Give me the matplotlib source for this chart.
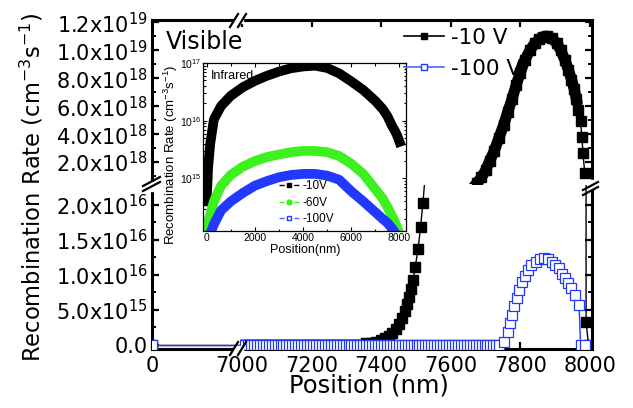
import matplotlib
matplotlib.use("Agg")
import matplotlib.pyplot as plt
import numpy as np
from matplotlib.lines import Line2D
from matplotlib.patches import Rectangle

plt.rcParams["font.family"] = ["DejaVu Sans"]
plt.rcParams["mathtext.default"] = "regular"
INSET_FONT = ["Liberation Sans", "DejaVu Sans"]

W, H = 633, 408

# ---- main panel (visible light) -------------------------------------------
# simulation mesh where the rate is still ~0
mesh_10v = np.arange(7000, 7350, 9.0)
mesh_100v = np.arange(7000, 7748, 8.5)

pos_10v_peak = [7356, 7370, 7385, 7400, 7412, 7422, 7432, 7442, 7451, 7460,
                7468, 7475, 7481, 7487, 7492, 7498, 7506, 7513, 7520, 7527,
                7675, 7688, 7700, 7712, 7725, 7738, 7752, 7764, 7776, 7788,
                7800, 7813, 7828, 7842, 7855, 7865, 7876, 7890, 7904, 7916,
                7928, 7938, 7947, 7955, 7961, 7966, 7973, 7977, 7980, 7985,
                7989, 7996]
rate_10v_peak = [0.24e15, 0.35e15, 0.5e15, 0.7e15, 0.95e15, 1.25e15, 1.7e15,
                 2.3e15, 3.0e15, 3.8e15, 4.8e15, 5.8e15, 6.8e15, 8.0e15,
                 9.3e15, 11.2e15, 13.7e15, 16.8e15, 20.3e15, 24.5e15,
                 0.5e18, 0.9e18, 1.4e18, 2.1e18, 2.8e18, 3.7e18, 4.65e18,
                 5.6e18, 6.5e18, 7.5e18, 8.4e18, 9.3e18, 10.0e18, 10.5e18,
                 10.8e18, 10.95e18, 11.0e18, 10.85e18, 10.5e18, 10.0e18,
                 9.3e18, 8.6e18, 7.9e18, 7.2e18, 6.5e18, 5.7e18, 4.9e18,
                 3.8e18, 2.65e18, 1.25e18, 3.3e15, 0.0]

pos_100v_bump = [7754, 7764, 7771, 7776, 7782, 7790, 7796, 7804, 7813, 7823,
                 7832, 7844, 7856, 7869, 7880, 7891, 7901, 7910, 7920, 7928,
                 7937, 7947, 7956, 7969, 7973, 7985]
rate_100v_bump = [0.5e15, 1.9e15, 3.1e15, 4.3e15, 5.5e15, 6.7e15, 7.9e15,
                  9.0e15, 9.8e15, 10.7e15, 11.4e15, 11.9e15, 12.2e15, 12.4e15,
                  12.3e15, 11.9e15, 11.4e15, 11.0e15, 10.2e15, 9.5e15, 8.8e15,
                  8.1e15, 7.1e15, 5.7e15, 0.0, 0.0]

pos_10v = np.concatenate([[0], mesh_10v, pos_10v_peak])
rate_10v = np.concatenate([[0], np.zeros(len(mesh_10v)), rate_10v_peak])
pos_100v = np.concatenate([[0], mesh_100v, pos_100v_bump])
rate_100v = np.concatenate([[0], np.zeros(len(mesh_100v)), rate_100v_bump])

lower_ticks = [0, 5e15, 1e16, 1.5e16, 2e16]
lower_labels = ["0.0", "5.0x10$^{15}$", "1.0x10$^{16}$", "1.5x10$^{16}$",
                "2.0x10$^{16}$"]
upper_ticks = [2e18, 4e18, 6e18, 8e18, 1e19, 1.2e19]
upper_labels = ["2.0x10$^{18}$", "4.0x10$^{18}$", "6.0x10$^{18}$",
                "8.0x10$^{18}$", "1.0x10$^{19}$", "1.2x10$^{19}$"]
x_ticks = [7000, 7200, 7400, 7600, 7800, 8000]

# ---- inset (infrared) -----------------------------------------------------
ir_pos_10v = [0, 60, 150, 300, 600, 1000, 1500, 2000, 2500, 3000, 3500, 4000,
              4500, 5000, 5500, 6000, 6500, 7000, 7300, 7500, 7700, 7800,
              7900, 8000]
ir_rate_10v = [4e14, 1.5e15, 4e15, 1.05e16, 1.8e16, 2.7e16, 3.8e16, 4.9e16,
               6.0e16, 7.1e16, 8.1e16, 8.7e16, 9.0e16, 8.2e16, 6.6e16, 4.8e16,
               3.4e16, 2.2e16, 1.6e16, 1.2e16, 8e15, 6.8e15, 5.6e15, 4.3e15]
ir_pos_60v = [0, 100, 300, 600, 1000, 1500, 2000, 2500, 3000, 3500, 4000,
              4500, 5000, 5500, 6000, 6500, 7000, 7300, 7500, 7700, 7800,
              7900, 8000]
ir_rate_60v = [1.1e14, 2e14, 4e14, 7.5e14, 1.15e15, 1.6e15, 2.0e15, 2.35e15,
               2.6e15, 2.85e15, 3.0e15, 3.0e15, 2.85e15, 2.45e15, 1.8e15,
               1.2e15, 6.5e14, 4.5e14, 3.2e14, 2.2e14, 1.8e14, 1.45e14, 1.1e14]
ir_pos_100v = [150, 300, 600, 1000, 1500, 2000, 2500, 3000, 3500, 4000, 4500,
               5000, 5500, 6000, 6500, 7000, 7300, 7500, 7700, 7850]
ir_rate_100v = [1.1e14, 1.6e14, 2.8e14, 4e14, 5.6e14, 7.5e14, 9e14, 1.05e15,
                1.15e15, 1.2e15, 1.2e15, 1.12e15, 9.5e14, 6e14, 4e14, 2.6e14,
                2e14, 1.7e14, 1.35e14, 1.1e14]
ir_x_ticks = [0, 2000, 4000, 6000, 8000]
ir_y_ticks = [1e15, 1e16, 1e17]
ir_y_labels = ["10$^{15}$", "10$^{16}$", "10$^{17}$"]

BLACK, BLUE, GREEN = "black", "#2338ff", "#3ef01e"


def box(l, t, r, b):
    return [l / W, 1 - b / H, (r - l) / W, (b - t) / H]


def px(x, y):
    return x / W, 1 - y / H


fig = plt.figure(figsize=(W / 100, H / 100), dpi=100)
ax_bl = fig.add_axes(box(152, 184.5, 240, 349))
ax_br = fig.add_axes(box(240, 184.5, 592, 349))
ax_tl = fig.add_axes(box(152, 20, 240, 184.5))
ax_tr = fig.add_axes(box(240, 20, 592, 184.5))

for ax, upper in ((ax_bl, False), (ax_br, False), (ax_tl, True), (ax_tr, True)):
    ax.patch.set_alpha(0)
    r10, r100 = rate_10v, rate_100v
    if upper:  # keep near-zero markers from poking across the y break
        r10 = np.where(rate_10v < 1e17, np.nan, rate_10v)
        r100 = np.where(rate_100v < 1e17, np.nan, rate_100v)
    ax.plot(pos_10v, r10, "-", color=BLACK, lw=1, marker="s", ms=6.5,
            mfc=BLACK, mec=BLACK, zorder=2)
    ax.plot(pos_100v, r100, "-", color=BLUE, lw=1, marker="s", ms=6.5,
            mfc="white", mec=BLUE, mew=0.9, zorder=3)
    for s in ax.spines.values():
        s.set_linewidth(2.2)
    ax.tick_params(direction="in", width=1.6, length=5, labelsize=15)
    ax.tick_params(which="minor", direction="in", width=1.4, length=3)

# dense sampling around the visible peak makes the markers merge into a band
dense = (np.array(pos_10v_peak) > 7600) & (np.array(pos_10v_peak) < 7962)
ax_tr.plot(np.array(pos_10v_peak)[dense], np.array(rate_10v_peak)[dense],
           "-", color=BLACK, lw=8, zorder=2)

for ax in (ax_bl, ax_tl):
    ax.set_xlim(0, 250)
for ax in (ax_br, ax_tr):
    ax.set_xlim(6994, 8006)
for ax in (ax_bl, ax_br):
    ax.set_ylim(-0.057e16, 2.29e16)
    ax.set_yticks(lower_ticks)
    ax.set_yticks(np.array(lower_ticks[:-1]) + 2.5e15, minor=True)
for ax in (ax_tl, ax_tr):
    ax.set_ylim(0.4e18, 1.215e19)
    ax.set_yticks(upper_ticks)
    ax.set_yticks(np.array(upper_ticks) - 1e18, minor=True)

ax_bl.set_yticklabels(lower_labels)
ax_tl.set_yticklabels(upper_labels)
ax_bl.set_xticks([0])
ax_bl.set_xticklabels(["0"])
ax_br.set_xticks(x_ticks)
ax_br.set_xticklabels([str(v) for v in x_ticks])
ax_tr.set_xticks(x_ticks)
ax_tl.set_xticks([])

ax_bl.spines[["top", "right"]].set_visible(False)
ax_br.spines[["top", "left"]].set_visible(False)
ax_tl.spines[["bottom", "right"]].set_visible(False)
ax_tr.spines[["bottom", "left"]].set_visible(False)
ax_bl.tick_params(which="both", right=False, pad=3)
ax_tl.tick_params(which="both", right=False, bottom=False, labelbottom=False,
                  pad=3)
ax_br.tick_params(which="both", left=False, labelleft=False, right=True)
ax_tr.tick_params(which="both", left=False, labelleft=False, right=True,
                  top=True, bottom=False, labelbottom=False)
for ax in (ax_bl, ax_br):
    ax.tick_params(axis="x", pad=5)


# axis break marks
def brk(p1, p2, shift):
    (x1, y1), (x2, y2) = p1, p2
    for dx, dy in (0, 0), shift:
        a, b = px(x1 + dx, y1 + dy), px(x2 + dx, y2 + dy)
        fig.add_artist(Line2D([a[0], b[0]], [a[1], b[1]], color="black",
                              lw=1.6, zorder=10))


fig.add_artist(Rectangle(px(234, 23), 9 / W, 6 / H, color="white", zorder=9))
fig.add_artist(Rectangle(px(234, 352), 9 / W, 6 / H, color="white", zorder=9))
fig.add_artist(Rectangle(px(149, 191), 6 / W, 9 / H, color="white", zorder=9))
fig.add_artist(Rectangle(px(589, 189), 6 / W, 9 / H, color="white", zorder=9))
brk((230, 27), (238, 14), (8, 0))
brk((230, 355), (238, 342), (8, 0))
brk((143, 191), (160, 182), (0, -5))
brk((583, 190), (598, 182), (0, 5))

fig.text(*px(32, 187), "Recombination Rate (cm$^{-3}$s$^{-1}$)", rotation=90,
         ha="center", va="center", fontsize=16.3)
fig.text(*px(369, 386), "Position (nm)", ha="center", va="center",
         fontsize=17.5)
fig.text(*px(166, 42), "Visible", ha="left", va="center", fontsize=17)

handles = [Line2D([], [], color=BLACK, lw=1.2, marker="s", ms=5, mfc=BLACK),
           Line2D([], [], color="#4a66ff", lw=1.2, marker="s", ms=5,
                  mfc="white", mec=BLUE)]
leg = fig.legend(handles, ["-10 V", "-100 V"], loc="upper left",
                 bbox_to_anchor=px(404, 28), frameon=False, fontsize=15.5,
                 handlelength=1.85, handletextpad=0.35, labelspacing=0.5,
                 borderpad=0, borderaxespad=0)
leg.set_zorder(20)

# ---- inset ----------------------------------------------------------------
ax_in = fig.add_axes(box(203, 63, 405.5, 231))
ax_in.set_facecolor("white")
ax_in.plot(ir_pos_10v, ir_rate_10v, color=BLACK, lw=7)
ax_in.plot(ir_pos_60v, ir_rate_60v, color=GREEN, lw=7)
ax_in.plot(ir_pos_100v, ir_rate_100v, color=BLUE, lw=7)
ax_in.set_yscale("log")
ax_in.set_xlim(-150, 8250)
ax_in.set_ylim(10 ** 14.09, 10 ** 17.0)
ax_in.set_xticks(ir_x_ticks)
ax_in.set_xticklabels([str(v) for v in ir_x_ticks], family=INSET_FONT)
ax_in.set_xticks([1000, 3000, 5000, 7000], minor=True)
ax_in.set_yticks(ir_y_ticks)
ax_in.set_yticklabels(ir_y_labels, family=INSET_FONT)
ax_in.tick_params(which="both", direction="in", top=True, right=True,
                  labelsize=7.5, pad=1.2, width=0.8)
ax_in.tick_params(which="major", length=3)
ax_in.tick_params(which="minor", length=1.8)
for s in ax_in.spines.values():
    s.set_linewidth(0.9)
ax_in.text(0.04, 0.96, "Infrared", transform=ax_in.transAxes, ha="left",
           va="top", fontsize=9, family=INSET_FONT)
fig.text(*px(171, 155), "Recombination Rate (cm$^{-3}$s$^{-1}$)", rotation=90,
         ha="center", va="center", fontsize=9.5, family=INSET_FONT)
fig.text(*px(305, 250), "Position(nm)", ha="center", va="center", fontsize=9,
         family=INSET_FONT)

ir_handles = [Line2D([], [], color=BLACK, lw=1, ls="--", marker="s", ms=3.5),
              Line2D([], [], color=GREEN, lw=1, ls="--", marker="o", ms=3.5),
              Line2D([], [], color="#4a66ff", lw=1, ls="--", marker="s",
                     ms=3.5, mfc="white", mec=BLUE)]
ax_in.legend(ir_handles, ["-10V", "-60V", "-100V"], loc="upper left",
             bbox_to_anchor=px(279, 180), bbox_transform=fig.transFigure,
             frameon=False, handlelength=1.7, handletextpad=0.25,
             labelspacing=0.4, borderpad=0, borderaxespad=0,
             prop={"family": INSET_FONT, "size": 8.5})

fig.savefig("out.png", dpi=100)
